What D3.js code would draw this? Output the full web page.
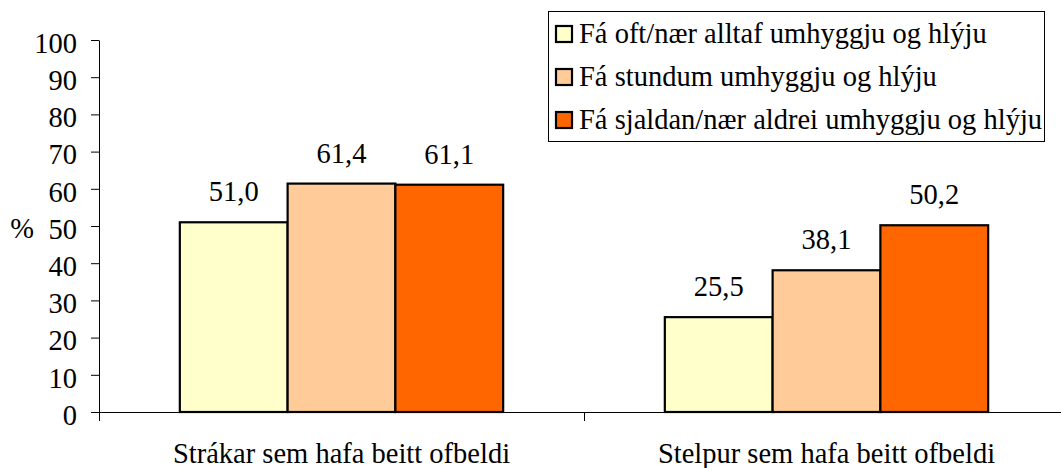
<!DOCTYPE html>
<html>
<head>
<meta charset="utf-8">
<script src="https://cdn.jsdelivr.net/npm/d3@7"></script>
<style>
  body { margin: 0; background: #fff; }
  svg { display: block; }
  svg text { font-family: "Liberation Serif", "Times New Roman", serif; fill: #000; }
</style>
</head>
<body>
<script>
// categories and series
var categories = ["Strákar sem hafa beitt ofbeldi", "Stelpur sem hafa beitt ofbeldi"];
var seriesNames = ["Fá oft/nær alltaf umhyggju og hlýju",
                   "Fá stundum umhyggju og hlýju",
                   "Fá sjaldan/nær aldrei umhyggju og hlýju"];
var seriesColors = ["#FFFFCC", "#FFCC99", "#FF6600"];

// values per series, one per category
var oftValues = [51.0, 25.5];
var stundumValues = [61.4, 38.1];
var sjaldanValues = [61.1, 50.2];

var yTicks = [0, 10, 20, 30, 40, 50, 60, 70, 80, 90, 100];

var width = 1061, height = 468;
var plotLeft = 99, plotTop = 40, plotBottom = 412;
var fontSize = "28.5px";

var svg = d3.select("body")
  .append("svg")
  .attr("width", width)
  .attr("height", height)
  .attr("font-family", "Liberation Serif, Times New Roman, serif");

// scales
var x0 = d3.scaleBand()
  .domain(categories)
  .range([plotLeft, 1069]);

var x1 = d3.scaleBand()
  .domain(seriesNames)
  .range([0, x0.bandwidth()])
  .paddingInner(0)
  .paddingOuter(0.75);

var y = d3.scaleLinear()
  .domain([0, 100])
  .range([plotBottom, plotTop]);

var color = d3.scaleOrdinal().domain(seriesNames).range(seriesColors);

// build rows for the bars
var allValues = [oftValues, stundumValues, sjaldanValues];
var rows = [];
categories.forEach(function(c, ci) {
  seriesNames.forEach(function(s, si) {
    rows.push({cat: c, series: s, value: allValues[si][ci]});
  });
});

// y axis
var yAxis = d3.axisLeft(y)
  .tickValues(yTicks)
  .tickSizeInner(8)
  .tickSizeOuter(0)
  .tickPadding(14)
  .tickFormat(d3.format("d"));

var gy = svg.append("g")
  .attr("transform", "translate(" + plotLeft + ",0)")
  .call(yAxis);
gy.attr("font-family", null).attr("font-size", null);
gy.selectAll("path, line").attr("stroke", "#000");
gy.selectAll("text")
  .style("font-size", fontSize)
  .attr("dy", "0.43em");

// x axis line and boundary ticks
svg.append("line")
  .attr("x1", plotLeft - 8).attr("x2", width)
  .attr("y1", plotBottom + 0.5).attr("y2", plotBottom + 0.5)
  .attr("stroke", "#000");

var bounds = categories.map(function(c) { return x0(c); });
bounds.push(x0(categories[categories.length - 1]) + x0.bandwidth());
svg.selectAll(".xtick")
  .data(bounds)
  .enter()
  .append("line")
  .attr("class", "xtick")
  .attr("x1", function(d) { return Math.round(d) + 0.5; })
  .attr("x2", function(d) { return Math.round(d) + 0.5; })
  .attr("y1", plotBottom)
  .attr("y2", plotBottom + 9)
  .attr("stroke", "#000");

// category labels
svg.selectAll(".catlabel")
  .data(categories)
  .enter()
  .append("text")
  .attr("class", "catlabel")
  .attr("x", function(d) { return x0(d) + x0.bandwidth() / 2; })
  .attr("y", 463)
  .attr("text-anchor", "middle")
  .style("font-size", fontSize)
  .text(function(d) { return d; });

// % label
svg.append("text")
  .attr("x", 22)
  .attr("y", y(50))
  .attr("dy", "0.43em")
  .attr("text-anchor", "middle")
  .style("font-size", fontSize)
  .text("%");

// bars
svg.selectAll(".bar")
  .data(rows)
  .enter()
  .append("rect")
  .attr("class", "bar")
  .attr("x", function(d) { return x0(d.cat) + x1(d.series); })
  .attr("y", function(d) { return y(d.value); })
  .attr("width", x1.bandwidth())
  .attr("height", function(d) { return y(0) - y(d.value); })
  .attr("fill", function(d) { return color(d.series); })
  .attr("stroke", "#000")
  .attr("stroke-width", 2.2);

// value labels
svg.selectAll(".vlabel")
  .data(rows)
  .enter()
  .append("text")
  .attr("class", "vlabel")
  .attr("x", function(d) { return x0(d.cat) + x1(d.series) + x1.bandwidth() / 2; })
  .attr("y", function(d) { return y(d.value) - 21; })
  .attr("text-anchor", "middle")
  .style("font-size", fontSize)
  .text(function(d) { return d.value.toFixed(1).replace(".", ","); });

// legend
var legend = svg.append("g").attr("class", "legend");

legend.append("rect")
  .attr("x", 548.5).attr("y", 11.5)
  .attr("width", 496).attr("height", 130)
  .attr("fill", "#fff")
  .attr("stroke", "#000");

legend.selectAll(".lkey")
  .data(seriesNames)
  .enter()
  .append("rect")
  .attr("class", "lkey")
  .attr("x", 556)
  .attr("y", function(d, i) { return 26 + i * 43; })
  .attr("width", 16)
  .attr("height", 16)
  .attr("fill", function(d) { return color(d); })
  .attr("stroke", "#000")
  .attr("stroke-width", 2.2);

legend.selectAll(".ltext")
  .data(seriesNames)
  .enter()
  .append("text")
  .attr("class", "ltext")
  .attr("x", 579)
  .attr("y", function(d, i) { return 43 + i * 43; })
  .style("font-size", fontSize)
  .text(function(d) { return d; });
</script>
</body>
</html>
